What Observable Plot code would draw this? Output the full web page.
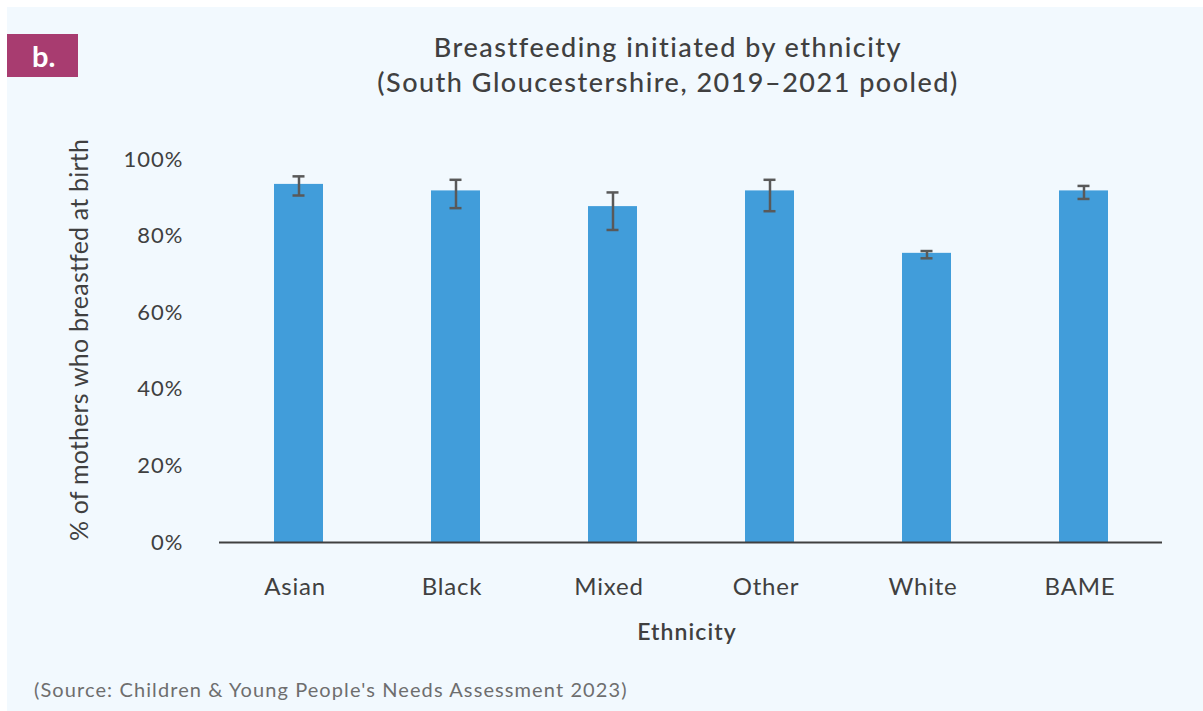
<!DOCTYPE html>
<html>
<head>
<meta charset="utf-8">
<script src="https://cdn.jsdelivr.net/npm/d3@7"></script>
<script src="https://cdn.jsdelivr.net/npm/@observablehq/plot@0.6"></script>
<style>
  html, body { margin: 0; padding: 0; background: #ffffff; }
  body { width: 1203px; height: 711px; position: relative; overflow: hidden; font-family: Lato, "Open Sans", sans-serif; }
  #panel { position: absolute; left: 7px; top: 7px; width: 1196px; height: 704px; background: #f2f9fe; }
  #badge { position: absolute; left: 0; top: 27px; width: 71px; height: 43px; background: #a83c70;
           color: #fff; font-weight: bold; font-size: 29px; line-height: 43px; text-indent: 25px; }
  #title { position: absolute; left: 311px; width: 700px; top: 22px; text-align: center;
           color: #404040; font-size: 27px; font-weight: 500; letter-spacing: 1.5px; line-height: 35px; }
  #chart { position: absolute; left: 0; top: 113px; }
  #chart svg { overflow: visible; }
  #caption { position: absolute; left: 27px; top: 670px; color: #6e6e6e; font-size: 20px; letter-spacing: 1.1px; }
</style>
</head>
<body>
<div id="panel">
  <div id="badge">b.</div>
  <div id="title">Breastfeeding initiated by ethnicity<br>(South Gloucestershire, 2019–2021 pooled)</div>
  <div id="chart"></div>
  <div id="caption">(Source: Children &amp; Young People's Needs Assessment 2023)</div>
</div>
<script>
// Breastfeeding initiation rate (%) by ethnic group, with 95% confidence limits
const categories = ["Asian", "Black", "Mixed", "Other", "White", "BAME"];
const values = [93.5, 91.8, 87.7, 91.8, 75.5, 91.8];
const lower = [90.6, 87.3, 81.6, 86.5, 74.2, 89.7];
const upper = [95.6, 94.7, 91.4, 94.7, 76.1, 93.1];
const yTicks = [0, 20, 40, 60, 80, 100];
const yLabel = "% of mothers who breastfed at birth";
const xLabel = "Ethnicity";

const rows = categories.map((c, i) => ({ group: c, value: values[i], lo: lower[i], hi: upper[i] }));

const ink = "#404040";
const errInk = "#595959";

const chart = Plot.plot({
  width: 1196,
  height: 540,
  marginTop: 39,
  marginBottom: 118,
  marginLeft: 212,
  marginRight: 41,
  style: { background: "transparent", fontFamily: "Lato, 'Open Sans', sans-serif", color: ink },
  x: { domain: categories, paddingInner: 0.69, paddingOuter: 0.345 },
  y: { domain: [0, 100] },
  marks: [
    Plot.barY(rows, { x: "group", y: "value", fill: "#419dda" }),
    Plot.ruleX(rows, { x: "group", y1: "lo", y2: "hi", stroke: errInk, strokeWidth: 2.5 }),
    Plot.tickY(rows, { x: "group", y: "lo", stroke: errInk, strokeWidth: 2.5, insetLeft: 18.5, insetRight: 18.5 }),
    Plot.tickY(rows, { x: "group", y: "hi", stroke: errInk, strokeWidth: 2.5, insetLeft: 18.5, insetRight: 18.5 }),
    Plot.ruleY([0], { stroke: ink, strokeWidth: 2 }),
    Plot.axisY({ ticks: yTicks, tickFormat: d => d + "%", tickSize: 0, tickPadding: 36,
                 fontSize: 22, fill: ink, label: null }),
    Plot.axisX({ tickSize: 0, tickPadding: 35, dx: -4, fontSize: 24, fill: ink, label: null }),
    Plot.text([yLabel], { frameAnchor: "left", dx: -140, dy: -11, rotate: -90,
                          textAnchor: "middle", fontSize: 25, fill: ink, lineAnchor: "middle" }),
    Plot.text([xLabel], { frameAnchor: "bottom", dy: 90, dx: -4, fontSize: 23,
                          fontWeight: 600, fill: ink, lineAnchor: "middle" })
  ]
});

// Slightly open tracking on the chart's labels
const spacing = new Map([[yLabel, "0.2px"], [xLabel, "1.1px"]]);
d3.select(chart).selectAll("text").each(function () {
  const t = this.textContent;
  if (spacing.has(t)) this.style.letterSpacing = spacing.get(t);
  else if (categories.includes(t)) this.style.letterSpacing = "0.8px";
  else if (/%$/.test(t)) this.style.letterSpacing = "1px";
});

document.getElementById("chart").appendChild(chart);
</script>
</body>
</html>
